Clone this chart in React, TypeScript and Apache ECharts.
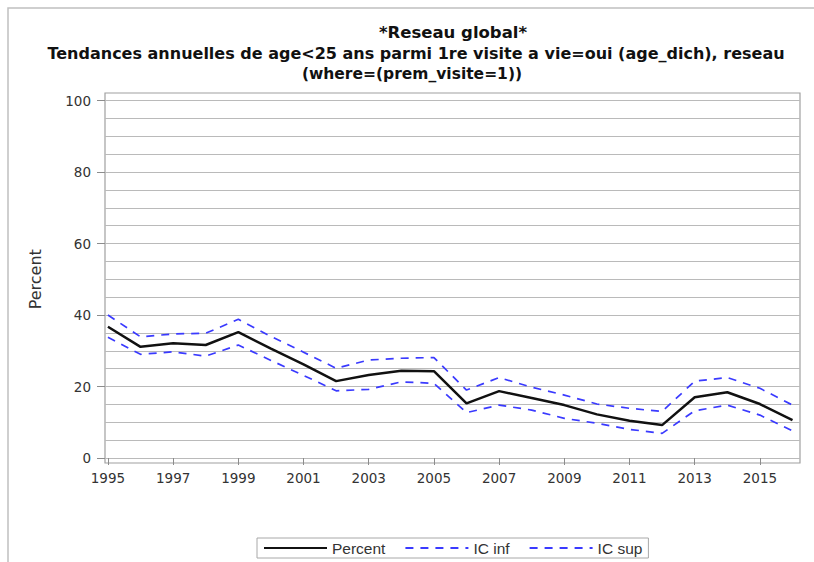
import React, { useEffect, useRef } from "react";
import * as echarts from "echarts";

const years = [1995, 1996, 1997, 1998, 1999, 2000, 2001, 2002, 2003, 2004, 2005, 2006, 2007, 2008, 2009, 2010, 2011, 2012, 2013, 2014, 2015, 2016];
const percent = [36.7, 31.1, 32.1, 31.6, 35.2, 30.6, 26.2, 21.5, 23.2, 24.4, 24.3, 15.3, 18.7, 16.8, 14.8, 12.2, 10.4, 9.2, 17.0, 18.4, 15.1, 10.6];
const icInf = [33.8, 29.0, 29.7, 28.5, 31.6, 27.3, 23.1, 18.8, 19.2, 21.3, 20.9, 12.7, 14.8, 13.4, 11.1, 9.7, 8.0, 6.9, 13.2, 14.8, 12.0, 7.6];
const icSup = [40.0, 33.9, 34.7, 34.9, 38.8, 34.0, 29.6, 25.1, 27.4, 27.9, 28.1, 19.0, 22.5, 19.8, 17.6, 15.1, 13.9, 13.0, 21.5, 22.5, 19.5, 14.8];
const xTickLabels = [1995, 1997, 1999, 2001, 2003, 2005, 2007, 2009, 2011, 2013, 2015];
const seriesNames = ["Percent", "IC inf", "IC sup"];
const titleLine1 = "*Reseau global*";
const titleLine2 = "Tendances annuelles de age<25 ans parmi 1re visite a vie=oui (age_dich), reseau";
const titleLine3 = "(where=(prem_visite=1))";

const pair = (vals: number[]) => years.map((y, i) => [y, vals[i]]);

export default function App() {
  const ref = useRef<HTMLDivElement>(null);
  useEffect(() => {
    if (!ref.current) return;
    const chart = echarts.init(ref.current, null, { renderer: "svg" });
    const blue = "#3a3aff";
    const textColor = "#333333";
    const titleFont = "bold 16px 'DejaVu Sans'";
    chart.setOption({
      animation: false,
      backgroundColor: "#ffffff",
      grid: { left: 105, right: 14, top: 100.5, bottom: 104, containLabel: false },
      xAxis: {
        type: "value",
        min: 1994.91,
        max: 2016.23,
        offset: 5,
        axisLine: { show: false },
        splitLine: { show: false },
        axisTick: { show: true, length: 7, customValues: xTickLabels, lineStyle: { color: "#8c8c8c" } },
        axisLabel: {
          customValues: xTickLabels,
          formatter: (v: number) => String(v),
          color: textColor,
          fontFamily: "DejaVu Sans",
          fontSize: 13.5,
          margin: 8,
        },
      },
      yAxis: [
        {
          type: "value",
          min: 0,
          max: 100,
          interval: 5,
          axisLine: { show: false },
          axisTick: { show: false },
          axisLabel: { show: false },
          splitLine: { show: true, lineStyle: { color: "#bababa", width: 1 } },
        },
        {
          type: "value",
          position: "left",
          min: 0,
          max: 100,
          interval: 20,
          name: "Percent",
          nameLocation: "middle",
          nameGap: 62,
          nameRotate: 90,
          nameTextStyle: { color: textColor, fontFamily: "DejaVu Sans", fontSize: 16 },
          axisLine: { show: false },
          axisTick: { show: true, length: 8, lineStyle: { color: "#8c8c8c" } },
          axisLabel: { color: textColor, fontFamily: "DejaVu Sans", fontSize: 13.5, margin: 14 },
          splitLine: { show: false },
        },
      ],
      legend: {
        left: 257,
        top: 538,
        data: seriesNames,
        orient: "horizontal",
        itemWidth: 63,
        itemHeight: 14,
        itemGap: 19,
        padding: [2, 6, 2, 6],
        borderColor: "#a8a8a8",
        borderWidth: 1,
        itemStyle: { opacity: 0 },
        textStyle: { color: textColor, fontFamily: "Liberation Sans", fontSize: 15.5 },
      },
      graphic: [
        {
          type: "rect",
          shape: { x: 8, y: 8, width: 900, height: 700 },
          style: { fill: "none", stroke: "#c0c0c0", lineWidth: 1.5 },
          silent: true,
          z: -10,
        },
        {
          type: "rect",
          shape: { x: 105, y: 93, width: 695, height: 370 },
          style: { fill: "none", stroke: "#a0a0a0", lineWidth: 1.2 },
          silent: true,
        },
        {
          type: "text",
          x: 453,
          y: 32,
          style: { text: titleLine1, font: "bold 16.5px 'DejaVu Sans'", fill: "#111", textAlign: "center", textVerticalAlign: "middle" },
        },
        {
          type: "text",
          x: 416,
          y: 53,
          style: { text: titleLine2, font: titleFont, fill: "#111", textAlign: "center", textVerticalAlign: "middle" },
        },
        {
          type: "text",
          x: 412,
          y: 74,
          style: { text: titleLine3, font: "bold 15.5px 'DejaVu Sans'", fill: "#111", textAlign: "center", textVerticalAlign: "middle" },
        },
      ],
      series: [
        {
          name: seriesNames[0],
          type: "line",
          yAxisIndex: 0,
          data: pair(percent),
          showSymbol: false,
          symbol: "none",
          lineStyle: { color: "#111111", width: 2.5 },
          itemStyle: { color: "#111111" },
        },
        {
          name: seriesNames[1],
          type: "line",
          yAxisIndex: 0,
          data: pair(icInf),
          showSymbol: false,
          symbol: "none",
          lineStyle: { color: blue, width: 1.7, type: [8, 7] },
          itemStyle: { color: blue },
        },
        {
          name: seriesNames[2],
          type: "line",
          yAxisIndex: 0,
          data: pair(icSup),
          showSymbol: false,
          symbol: "none",
          lineStyle: { color: blue, width: 1.7, type: [8, 7] },
          itemStyle: { color: blue },
        },
      ],
    });
    return () => chart.dispose();
  }, []);
  return <div ref={ref} style={{ position: "fixed", left: 0, top: 0, width: 814, height: 562 }} />;
}
